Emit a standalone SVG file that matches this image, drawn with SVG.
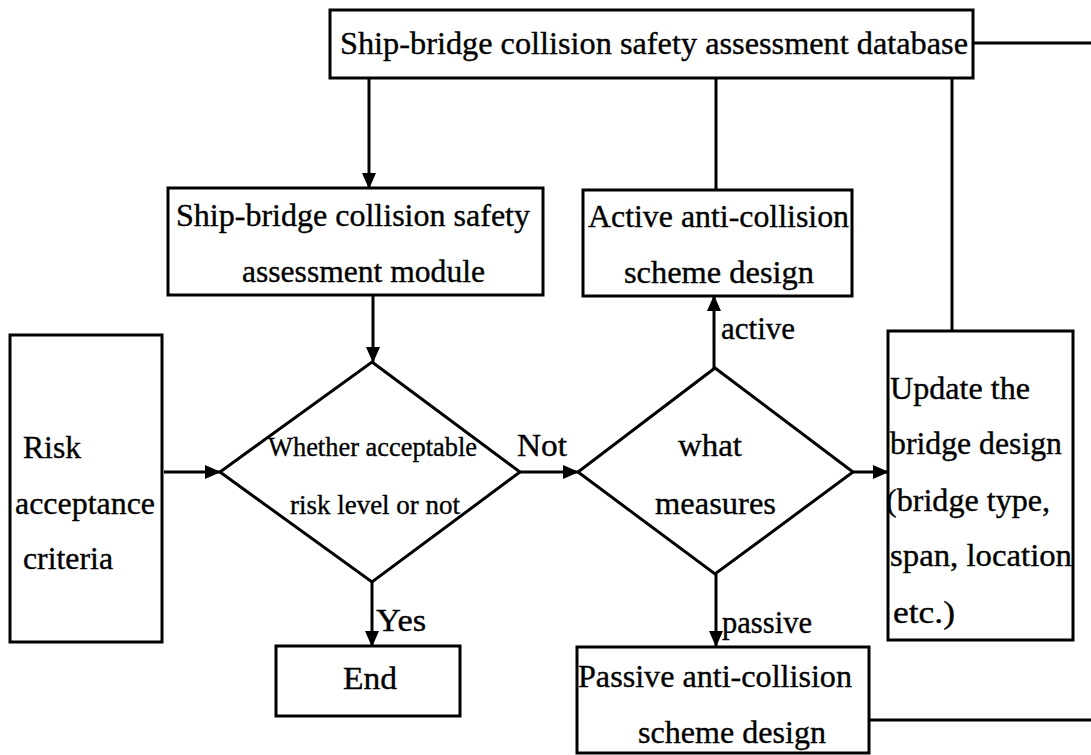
<svg xmlns="http://www.w3.org/2000/svg" width="1091" height="755" viewBox="0 0 1091 755">
<style>
.box{fill:#fff;stroke:#000;stroke-width:3}
.ln{fill:none;stroke:#000;stroke-width:3}
text{font-family:'Liberation Serif','Times New Roman',Times,serif;fill:#000;stroke:#000;stroke-width:0.35}
.t{font-size:32px}
.s{font-size:27px}
</style>
<defs>
<marker id="ah" markerUnits="userSpaceOnUse" markerWidth="16" markerHeight="14" refX="15" refY="7" orient="auto">
<path d="M0,0 L16,7 L0,14 Z" fill="#000"/>
</marker>
</defs>
<g id="connectors">
<line class="ln" x1="973" y1="43" x2="1091" y2="43"/>
<line class="ln" x1="369" y1="78" x2="369" y2="188" marker-end="url(#ah)"/>
<line class="ln" x1="716" y1="78" x2="716" y2="190"/>
<line class="ln" x1="952" y1="78" x2="952" y2="331"/>
<line class="ln" x1="373" y1="295" x2="373" y2="362" marker-end="url(#ah)"/>
<line class="ln" x1="164" y1="472" x2="220" y2="472" marker-end="url(#ah)"/>
<line class="ln" x1="520" y1="472" x2="578" y2="472" marker-end="url(#ah)"/>
<line class="ln" x1="714" y1="368" x2="714" y2="296" marker-end="url(#ah)"/>
<line class="ln" x1="853" y1="472" x2="888" y2="472" marker-end="url(#ah)"/>
<line class="ln" x1="716" y1="574" x2="716" y2="646" marker-end="url(#ah)"/>
<line class="ln" x1="372" y1="582" x2="372" y2="646" marker-end="url(#ah)"/>
<line class="ln" x1="870" y1="720" x2="1091" y2="720"/>
<text class="t" x="517" y="456" textLength="50" lengthAdjust="spacingAndGlyphs">Not</text>
<text class="t" x="721" y="339" textLength="74" lengthAdjust="spacingAndGlyphs">active</text>
<text class="t" x="722" y="633" textLength="90" lengthAdjust="spacingAndGlyphs">passive</text>
<text class="t" x="376" y="631" textLength="50" lengthAdjust="spacingAndGlyphs">Yes</text>
</g>
<g id="database">
<rect class="box" x="330" y="10" width="643" height="68"/>
<text class="t" x="340" y="54" textLength="628" lengthAdjust="spacingAndGlyphs">Ship-bridge collision safety assessment database</text>
</g>
<g id="module">
<rect class="box" x="168" y="188" width="375" height="107"/>
<text class="t" x="176" y="226" textLength="354" lengthAdjust="spacingAndGlyphs">Ship-bridge collision safety</text>
<text class="t" x="242" y="282" textLength="243" lengthAdjust="spacingAndGlyphs">assessment module</text>
</g>
<g id="active">
<rect class="box" x="583" y="190" width="269" height="106"/>
<text class="t" x="588" y="227" textLength="261" lengthAdjust="spacingAndGlyphs">Active anti-collision</text>
<text class="t" x="624" y="283" textLength="190" lengthAdjust="spacingAndGlyphs">scheme design</text>
</g>
<g id="risk">
<rect class="box" x="10" y="335" width="152" height="307"/>
<text class="t" x="23" y="458" textLength="58" lengthAdjust="spacingAndGlyphs">Risk</text>
<text class="t" x="15" y="514" textLength="140" lengthAdjust="spacingAndGlyphs">acceptance</text>
<text class="t" x="23" y="569" textLength="90" lengthAdjust="spacingAndGlyphs">criteria</text>
</g>
<g id="decision1">
<polygon class="box" points="372,362 520,472 372,582 220,472"/>
<text class="s" x="268" y="456" textLength="209" lengthAdjust="spacingAndGlyphs">Whether acceptable</text>
<text class="s" x="290" y="514" textLength="170" lengthAdjust="spacingAndGlyphs">risk level or not</text>
</g>
<g id="decision2">
<polygon class="box" points="715,368 853,472 715,574 578,472"/>
<text class="t" x="678" y="456" textLength="64" lengthAdjust="spacingAndGlyphs">what</text>
<text class="t" x="655" y="514" textLength="121" lengthAdjust="spacingAndGlyphs">measures</text>
</g>
<g id="update">
<rect class="box" x="888" y="331" width="185" height="309"/>
<text class="t" x="890" y="399" textLength="140" lengthAdjust="spacingAndGlyphs">Update the</text>
<text class="t" x="890" y="454" textLength="172" lengthAdjust="spacingAndGlyphs">bridge design</text>
<text class="t" x="886" y="511" textLength="164" lengthAdjust="spacingAndGlyphs">(bridge type,</text>
<text class="t" x="890" y="566" textLength="182" lengthAdjust="spacingAndGlyphs">span, location</text>
<text class="t" x="893" y="623" textLength="62" lengthAdjust="spacingAndGlyphs">etc.)</text>
</g>
<g id="end">
<rect class="box" x="276" y="646" width="184" height="70"/>
<text class="t" x="343" y="689" textLength="54" lengthAdjust="spacingAndGlyphs">End</text>
</g>
<g id="passive">
<rect class="box" x="577" y="647" width="292" height="106"/>
<text class="t" x="578" y="687" textLength="274" lengthAdjust="spacingAndGlyphs">Passive anti-collision</text>
<text class="t" x="638" y="743" textLength="188" lengthAdjust="spacingAndGlyphs">scheme design</text>
</g>
</svg>
